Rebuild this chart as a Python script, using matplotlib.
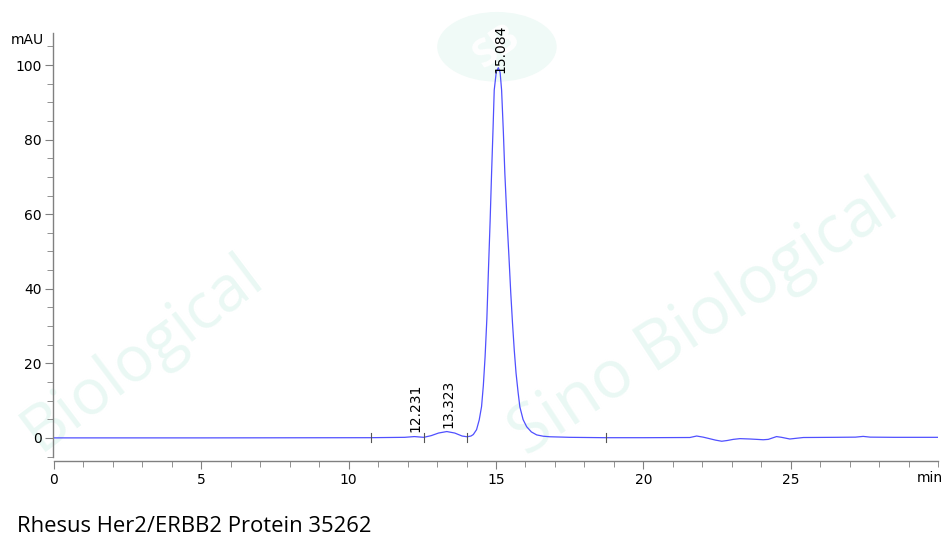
import matplotlib
matplotlib.use("Agg")
import matplotlib.pyplot as plt
from matplotlib.ticker import MultipleLocator

# ---- data ----
time_min = [0.0, 5.0, 10.7, 11.3, 11.9, 12.23, 12.55, 12.8, 13.05, 13.33, 13.6, 13.85,
            14.02, 14.15, 14.23, 14.34, 14.43, 14.51, 14.57, 14.63, 14.69, 14.74, 14.80,
            14.85, 14.90, 14.94, 15.01, 15.08, 15.14, 15.19, 15.25, 15.30, 15.37, 15.44,
            15.50, 15.56, 15.62, 15.68, 15.75, 15.81, 15.92, 16.04, 16.2, 16.38, 16.6,
            16.83, 17.5, 18.7, 20.0, 21.58, 21.81, 22.03, 22.19, 22.45, 22.66, 22.85,
            23.05, 23.28, 23.62, 23.85, 24.07, 24.24, 24.52, 24.69, 24.97, 25.2, 25.43,
            26.5, 27.2, 27.46, 27.7, 28.5, 30.0]
signal_mau = [0.0, 0.0, 0.05, 0.1, 0.15, 0.35, 0.15, 0.6, 1.3, 1.7, 1.3, 0.5,
              0.3, 0.5, 0.9, 2.2, 4.8, 8.4, 14.0, 21.8, 32.0, 44.2, 58.0,
              71.0, 83.0, 93.3, 98.2, 99.3, 98.0, 93.3, 82.0, 71.0, 59.0, 48.5,
              39.0, 30.8, 23.5, 17.4, 12.2, 8.3, 4.9, 3.0, 1.6, 0.8, 0.45,
              0.3, 0.15, 0.05, 0.05, 0.1, 0.5, 0.2, -0.1, -0.6, -0.9, -0.7,
              -0.4, -0.2, -0.3, -0.4, -0.5, -0.4, 0.35, 0.15, -0.3, -0.1, 0.1,
              0.15, 0.2, 0.4, 0.2, 0.15, 0.15]

peak_times = [12.231, 13.323, 15.084]
peak_labels = ["12.231", "13.323", "15.084"]
peak_label_base = [1.6, 2.7, 98.0]
boundary_times = [10.76, 12.55, 14.02, 18.73]

x_major = [0, 5, 10, 15, 20, 25]
y_major = [0, 20, 40, 60, 80, 100]

title = "Rhesus Her2/ERBB2 Protein 35262"

# ---- figure ----
fig = plt.figure(figsize=(9.52, 5.51), dpi=100)

# watermark (drawn behind the axes)
wm = "#eaf8f4"
fig.text(0.15, 0.36, "Biological", fontsize=46, color=wm, rotation=37,
         ha="center", va="center", family="Open Sans", zorder=0)
fig.text(0.74, 0.42, "Sino Biological", fontsize=48, color=wm, rotation=33,
         ha="center", va="center", family="Open Sans", zorder=0)
circ = plt.Circle((0.522, 0.915), 0.062, transform=fig.transFigure, color="#f0faf7",
                  zorder=0)
fig.patches.append(circ)
fig.text(0.522, 0.915, "SB", fontsize=28, color="#ffffff", rotation=35, ha="center",
         va="center", family="Open Sans", fontweight="bold", zorder=0.5)

ax = fig.add_axes([54 / 952, (551 - 461) / 551, (938 - 54) / 952, (461 - 33) / 551])
ax.set_zorder(2)
ax.patch.set_alpha(0)
ax.plot(time_min, signal_mau, color="#5050ff", lw=0.9, zorder=3)

for bt in boundary_times:
    ax.plot([bt, bt], [-1.0, 1.3], color="#555555", lw=0.8, zorder=4)

for t, lab, yb in zip(peak_times, peak_labels, peak_label_base):
    ax.text(t + 0.05, yb, lab, rotation=90, ha="center", va="bottom",
            fontsize=10, color="black", family="DejaVu Sans", zorder=5)

ax.set_xlim(0, 30)
ax.set_ylim(-6.2, 108.6)

for s in ["top", "right"]:
    ax.spines[s].set_visible(False)
for s in ["left", "bottom"]:
    ax.spines[s].set_color("#808080")
    ax.spines[s].set_linewidth(1.0)
ax.spines["left"].set_bounds(-5, 108.6)
ax.spines["left"].set_position(("outward", 1))

ax.set_xticks(x_major)
ax.set_yticks(y_major)
ax.xaxis.set_minor_locator(MultipleLocator(1))
ax.yaxis.set_minor_locator(MultipleLocator(5))
ax.tick_params(axis="both", which="major", length=6, color="#808080", labelsize=10,
               labelcolor="black")
ax.tick_params(axis="both", which="minor", length=4, color="#808080")
ax.tick_params(axis="x", pad=3)
ax.tick_params(axis="y", pad=2)

fig.text(44 / 952, 1 - 40 / 551, "mAU", fontsize=10, ha="right", va="center")
fig.text(943 / 952, 1 - 478 / 551, "min", fontsize=10, ha="right", va="center")

fig.text(17 / 952, 1 - 526 / 551, title, fontsize=15.8, ha="left", va="center",
         family="Open Sans")

fig.savefig("out.png", dpi=100)
